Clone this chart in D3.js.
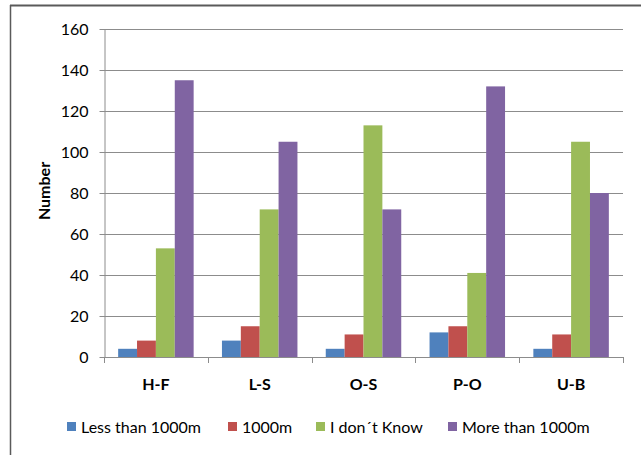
<!DOCTYPE html>
<html><head><meta charset="utf-8">
<script src="https://cdn.jsdelivr.net/npm/d3@7"></script>
<style>body{margin:0;background:#fff}svg{display:block}</style>
</head><body><svg id="c" width="641" height="455"></svg>
<script>
const categories = ["H-F","L-S","O-S","P-O","U-B"];
const seriesNames = ["Less than 1000m","1000m","I don´t Know","More than 1000m"];
const lessThan1000 = [4,8,4,12,4];
const m1000 = [8,15,11,15,11];
const dontKnow = [53,72,113,41,105];
const moreThan1000 = [135,105,72,132,80];
const yTicks = [0,20,40,60,80,100,120,140,160];
const colors = ["#4F81BD","#C0504D","#9BBB59","#8064A2"];
const seriesValues = [lessThan1000, m1000, dontKnow, moreThan1000];

const svg = d3.select("#c");
const font = "Lato, 'Open Sans', sans-serif";
// outer frame
svg.append("line").attr("x1",10).attr("x2",641).attr("y1",5.5).attr("y2",5.5).attr("stroke","#5a5a5a").attr("stroke-width",2);
svg.append("line").attr("x1",10.5).attr("x2",10.5).attr("y1",5).attr("y2",455).attr("stroke","#5a5a5a").attr("stroke-width",1.5);

const L=104, R=623, T=29, B=357;
const x = d3.scaleBand().domain(categories).range([L,R]).paddingInner(0).paddingOuter(0);
const y = d3.scaleLinear().domain([0,160]).range([B,T]);
const bandW = x.bandwidth();
const barW = bandW/5.5;
const xs = d3.scaleBand().domain(seriesNames).range([barW*0.75, bandW-barW*0.75]).padding(0);

// gridlines
svg.append("g").selectAll("line").data(yTicks.filter(d=>d>0)).join("line")
  .attr("x1",L).attr("x2",R).attr("y1",d=>Math.round(y(d))+0.5).attr("y2",d=>Math.round(y(d))+0.5)
  .attr("stroke","#8c8c8c").attr("stroke-width",1);

// bars
seriesNames.forEach((s,i)=>{
  svg.append("g").selectAll("rect").data(categories).join("rect")
    .attr("x",c=>x(c)+xs(s)).attr("width",xs.bandwidth())
    .attr("y",(c,j)=>y(seriesValues[i][j])).attr("height",(c,j)=>B-y(seriesValues[i][j]))
    .attr("fill",colors[i]);
});

// y axis
const ya = svg.append("g").attr("transform",`translate(${L+0.5},0)`)
  .call(d3.axisLeft(y).tickValues(yTicks).tickSize(5).tickPadding(11).tickSizeOuter(0));
ya.select(".domain").attr("stroke","#8c8c8c");
ya.selectAll(".tick line").attr("stroke","#8c8c8c");
ya.selectAll("text").attr("font-family",font).attr("font-size",16).attr("fill","#000");

// x axis
const xa = svg.append("g").attr("transform",`translate(0,${B+0.5})`)
  .call(d3.axisBottom(x).tickSize(0).tickPadding(21));
xa.select(".domain").attr("stroke","#8c8c8c").attr("d",`M${L},0H${R}`);
xa.selectAll("text").attr("font-family",font).attr("font-size",16).attr("font-weight","bold").attr("fill","#000");
const bounds = categories.map(c=>x(c)).concat([R]);
svg.append("g").selectAll("line").data(bounds).join("line")
  .attr("x1",d=>Math.round(d)+0.5).attr("x2",d=>Math.round(d)+0.5).attr("y1",B).attr("y2",B+6)
  .attr("stroke","#8c8c8c");

// y label
svg.append("text").attr("transform","translate(50,191) rotate(-90)").attr("text-anchor","middle")
  .attr("font-family",font).attr("font-size",16).attr("font-weight","bold").text("Number");

// legend
const legX = [67,228,316,448];
const lg = svg.append("g").selectAll("g").data(seriesNames).join("g")
  .attr("transform",(d,i)=>`translate(${legX[i]},422)`);
lg.append("rect").attr("width",9).attr("height",9).attr("fill",(d,i)=>colors[i]);
lg.append("text").attr("x",14).attr("y",10.5).attr("font-family",font).attr("font-size",16).text(d=>d);
</script></body></html>
